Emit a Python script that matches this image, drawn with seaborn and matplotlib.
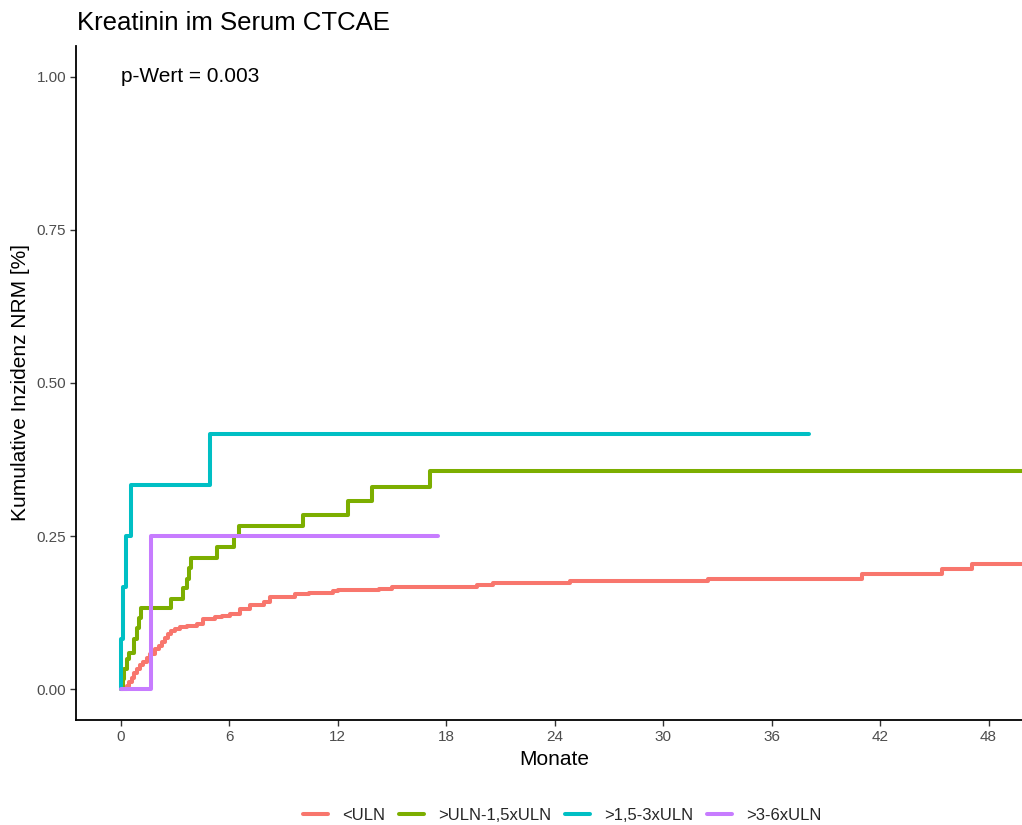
import matplotlib
matplotlib.use("Agg")
import matplotlib.pyplot as plt
from matplotlib.lines import Line2D
import numpy as np
import pandas as pd
import seaborn as sns

# Cumulative incidence of non-relapse mortality by serum creatinine grade (CTCAE)
groups = ["<ULN", ">ULN-1,5xULN", ">1,5-3xULN", ">3-6xULN"]
colors = ["#F8766D", "#7CAE00", "#00BFC4", "#C77CFF"]

# event times (months) and cumulative incidence after each event
uln_t = [0.33, 0.45, 0.6, 0.75, 0.88, 1.05, 1.25, 1.45, 1.62, 1.9, 2.1, 2.26, 2.45,
         2.63, 2.8, 3.0, 3.3, 3.65, 4.2, 4.57, 5.2, 5.6, 6.05, 6.6, 7.15, 7.9, 8.26,
         9.64, 10.4, 11.76, 12.0, 14.3, 15.0, 19.7, 20.6, 24.85, 32.5, 41.0, 45.4, 47.1]
uln_v = [0.005, 0.012, 0.019, 0.027, 0.034, 0.039, 0.044, 0.051, 0.058, 0.066, 0.071,
         0.077, 0.084, 0.090, 0.095, 0.099, 0.102, 0.104, 0.107, 0.115, 0.118, 0.120,
         0.123, 0.131, 0.137, 0.142, 0.150, 0.155, 0.157, 0.160, 0.162, 0.164, 0.167,
         0.170, 0.173, 0.177, 0.180, 0.188, 0.196, 0.204]
uln_end = 50.5

g1_t = [0.12, 0.2, 0.33, 0.45, 0.75, 0.88, 1.0, 1.1, 2.8, 3.45, 3.65, 3.8, 3.9,
        5.35, 6.25, 6.55, 10.1, 12.6, 13.9, 17.1]
g1_v = [0.017, 0.033, 0.050, 0.060, 0.083, 0.100, 0.117, 0.133, 0.148, 0.165, 0.180,
        0.198, 0.215, 0.232, 0.250, 0.266, 0.284, 0.307, 0.331, 0.357]
g1_end = 50.5

g2_t = [0.02, 0.15, 0.3, 0.55, 4.95]
g2_v = [0.083, 0.167, 0.250, 0.333, 0.417]
g2_end = 38.07

g3_t = [1.66]
g3_v = [0.250]
g3_end = 17.55

series = [(uln_t, uln_v, uln_end), (g1_t, g1_v, g1_end),
          (g2_t, g2_v, g2_end), (g3_t, g3_v, g3_end)]

rows = []
for name, (t, v, end) in zip(groups, series):
    xs = [0.0] + list(t) + [end]
    ys = [0.0] + list(v) + [v[-1]]
    for x, y in zip(xs, ys):
        rows.append({"Gruppe": name, "Monate": x, "CI": y})
df = pd.DataFrame(rows)

sns.set_theme(style="white")
plt.rcParams["font.family"] = ["Liberation Sans", "DejaVu Sans"]

fig = plt.figure(figsize=(10.22, 8.25), dpi=100)
ax = fig.add_axes([76 / 1022, 1 - 720 / 825, 1 - 76 / 1022, (720 - 46) / 825])

palette = dict(zip(groups, colors))
sns.lineplot(data=df, x="Monate", y="CI", hue="Gruppe", hue_order=groups,
             palette=palette, estimator=None, sort=False, drawstyle="steps-post",
             linewidth=2.9, legend=False, ax=ax)

ax.set_xlim(-2.47, 49.85)
ax.set_ylim(-0.05, 1.05)
ax.set_xticks(np.arange(0, 49, 6))
ax.set_yticks([0, 0.25, 0.5, 0.75, 1.0])
ax.set_yticklabels(["0.00", "0.25", "0.50", "0.75", "1.00"])

for s in ["top", "right"]:
    ax.spines[s].set_visible(False)
for s in ["left", "bottom"]:
    ax.spines[s].set_color("black")
    ax.spines[s].set_linewidth(1.3)

ax.tick_params(axis="both", which="major", length=4, width=1.0, color="#333333",
               labelcolor="#4D4D4D", labelsize=11, bottom=True, left=True, pad=3)
ax.set_xlabel("Monate", fontsize=15, color="black")
ax.xaxis.set_label_coords((554 - 76) / 946, -0.045)
ax.set_ylabel("Kumulative Inzidenz NRM [%]", fontsize=15, color="black", labelpad=5)

ax.text(0, 1.0, "p-Wert = 0.003", fontsize=15, ha="left", va="center", color="black")

fig.text(77 / 1022, 1 - 23 / 825, "Kreatinin im Serum CTCAE", fontsize=18.5,
         ha="left", va="center", color="black")

handles = [Line2D([0], [0], color=c, lw=2.9) for c in colors]
fig.legend(handles, groups, loc="center", bbox_to_anchor=(562 / 1022, 1 - 815 / 825),
           ncol=4, frameon=False, fontsize=12, handlelength=1.5, columnspacing=0.84,
           handletextpad=0.84)

fig.savefig("out.png", dpi=100)
